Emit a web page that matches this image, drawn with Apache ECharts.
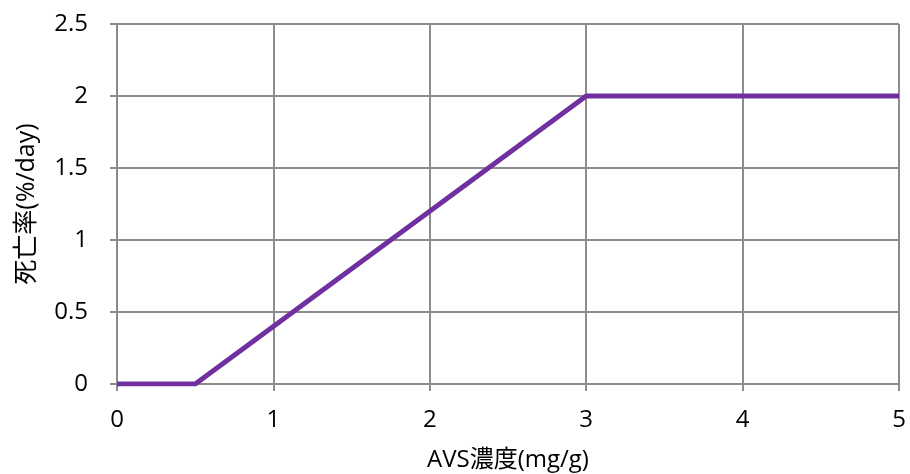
<!DOCTYPE html>
<html><head><meta charset="utf-8">
<script src="https://cdn.jsdelivr.net/npm/echarts@6/dist/echarts.min.js"></script>
<style>html,body{margin:0;padding:0;background:#fff}#c{width:910px;height:474px}</style>
</head><body><div id="c"></div>
<script>
const xValues = [0, 0.5, 3, 5];
const yValues = [0, 0, 2, 2];
const xTicks = [0, 1, 2, 3, 4, 5];
const yTicks = [0, 0.5, 1, 1.5, 2, 2.5];
const xName = 'AVS濃度(mg/g)';
const yName = '死亡率(%/day)';

const font = '"Open Sans", "Noto Sans CJK JP", sans-serif';
const gridColor = '#8c8c8c';
const chart = echarts.init(document.getElementById('c'), null, {renderer: 'canvas'});
chart.setOption({
  animation: false,
  grid: {left: 117, right: 11, top: 24, bottom: 90, containLabel: false, outerBoundsMode: 'none'},
  xAxis: {
    type: 'value', min: xTicks[0], max: xTicks[xTicks.length-1], interval: 1,
    name: xName, nameLocation: 'middle', nameGap: 64,
    nameTextStyle: {fontFamily: font, fontSize: 24, color: '#000'},
    axisLine: {show: true, lineStyle: {color: gridColor, width: 2}},
    axisTick: {show: true, length: 7, lineStyle: {color: gridColor, width: 2}},
    axisLabel: {fontFamily: font, fontSize: 24, color: '#000', margin: 24},
    splitLine: {show: true, lineStyle: {color: gridColor, width: 2}}
  },
  yAxis: {
    type: 'value', min: yTicks[0], max: yTicks[yTicks.length-1], interval: 0.5,
    name: yName, nameLocation: 'middle', nameGap: 78,
    nameTextStyle: {fontFamily: font, fontSize: 25, color: '#000'},
    axisLine: {show: true, lineStyle: {color: gridColor, width: 2}},
    axisTick: {show: true, length: 7, lineStyle: {color: gridColor, width: 2}},
    axisLabel: {fontFamily: font, fontSize: 24, color: '#000', margin: 29},
    splitLine: {show: true, lineStyle: {color: gridColor, width: 2}}
  },
  series: [{
    type: 'line',
    data: xValues.map((x, i) => [x, yValues[i]]),
    showSymbol: false,
    lineStyle: {color: '#7030A0', width: 5},
    itemStyle: {color: '#7030A0'}
  }]
});
</script></body></html>
